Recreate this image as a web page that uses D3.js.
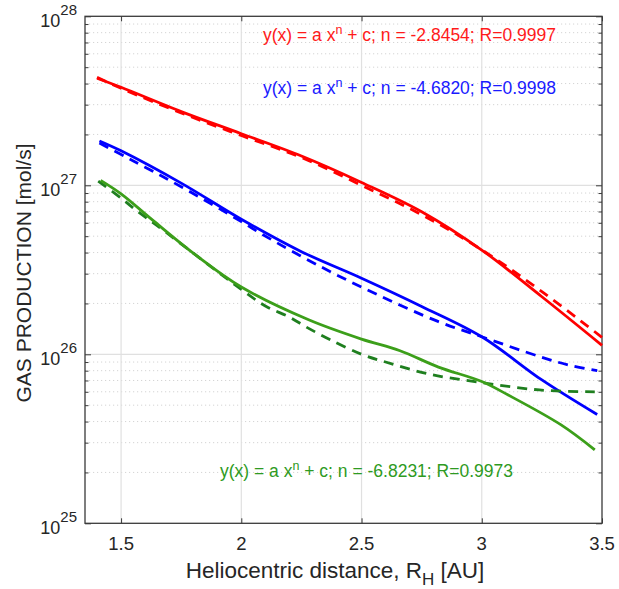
<!DOCTYPE html>
<html><head><meta charset="utf-8">
<script src="https://cdn.jsdelivr.net/npm/d3@7/dist/d3.min.js"></script>
<style>body{margin:0;background:#fff}svg{display:block}text{font-family:"Liberation Sans",Arial,sans-serif}</style>
</head><body><div id="chart"></div>
<script>
// ---- data ----
const xTicks = [1.5, 2, 2.5, 3, 3.5];
const yDecades = [25, 26, 27, 28];

const redSolidR = [1.40, 1.5, 1.75, 2.0, 2.25, 2.5, 2.75, 3.0, 3.25, 3.5];
const redSolidV = [4.30e27, 3.80e27, 2.73e27, 2.02e27, 1.49e27, 1.04e27, 6.98e26, 4.14e26, 2.19e26, 1.13e26];
const redFitR = [1.40, 1.5, 1.75, 2.0, 2.25, 2.5, 2.75, 3.0, 3.25, 3.5];
const redFitV = [4.35e27, 3.75e27, 2.68e27, 1.97e27, 1.46e27, 1.00e27, 6.7e26, 4.15e26, 2.35e26, 1.26e26];

const blueSolidR = [1.41, 1.5, 1.75, 2.0, 2.25, 2.5, 2.75, 3.0, 3.25, 3.48];
const blueSolidV = [1.83e27, 1.60e27, 1.03e27, 6.3e26, 4.05e26, 2.82e26, 1.92e26, 1.27e26, 7.05e25, 4.4e25];
const blueFitR = [1.41, 1.52, 1.6, 1.75, 2.0, 2.09, 2.33, 2.57, 2.82, 3.0, 3.24, 3.36, 3.48];
const blueFitV = [1.78e27, 1.47e27, 1.28e27, 9.8e26, 6.1e26, 5.1e26, 3.3e26, 2.24e26, 1.56e26, 1.27e26, 9.7e25, 8.65e25, 8.0e25];

const greenSolidR = [1.415, 1.5, 1.63, 1.81, 2.0, 2.28, 2.5, 2.66, 2.82, 3.0, 3.11, 3.33, 3.47];
const greenSolidV = [1.07e27, 8.9e26, 6.24e26, 3.87e26, 2.5e26, 1.6e26, 1.23e26, 1.05e26, 8.4e25, 6.9e25, 5.74e25, 3.82e25, 2.72e25];
const greenFitR = [1.405, 1.5, 1.57, 1.65, 2.0, 2.1, 2.2, 2.27, 2.37, 2.5, 2.6, 2.78, 3.0, 3.24, 3.47];
const greenFitV = [1.06e27, 8.4e26, 6.98e26, 5.77e26, 2.42e26, 1.93e26, 1.66e26, 1.45e26, 1.22e26, 1.0e26, 9.0e25, 7.64e25, 6.8e25, 6.15e25, 6.0e25];

const fitLabels = [
  {n: "-2.8454", r: "0.9997", color: "#ff1a1a"},
  {n: "-4.6820", r: "0.9998", color: "#1a1aff"},
  {n: "-6.8231", r: "0.9973", color: "#2e9a22"}
];

// ---- layout ----
const W = 619, H = 589;
const L = 85, R = 602, T = 16.3, B = 523.3;
const svg = d3.select("#chart").append("svg").attr("width", W).attr("height", H);
svg.append("rect").attr("width", W).attr("height", H).attr("fill", "#fff");

const x = d3.scaleLinear().domain([1.35, 3.5]).range([L, R]);
const y = d3.scaleLog().domain([1e25, 1e28]).range([B, T]);

const minorY = [];
for (let k = 25; k < 28; k++) for (let m = 2; m <= 9; m++) minorY.push(m * Math.pow(10, k));
const majorY = yDecades.map(d => Math.pow(10, d));

// grid
const g = svg.append("g");
g.selectAll(".mg").data(minorY).join("line")
  .attr("x1", L).attr("x2", R).attr("y1", d => y(d)).attr("y2", d => y(d))
  .attr("stroke", "#d4d4d4").attr("stroke-width", 1).attr("stroke-dasharray", "1.2,2.8");
g.selectAll(".Mg").data(majorY.slice(1, 3)).join("line")
  .attr("x1", L).attr("x2", R).attr("y1", d => y(d)).attr("y2", d => y(d))
  .attr("stroke", "#e0e0e0").attr("stroke-width", 1.2);
g.selectAll(".xg").data(xTicks.slice(0, 4)).join("line")
  .attr("x1", d => x(d)).attr("x2", d => x(d)).attr("y1", T).attr("y2", B)
  .attr("stroke", "#e0e0e0").attr("stroke-width", 1.2);

// axes (inward ticks) via d3.axis
const axCol = "#3a3a3a";
function styleAxis(sel) { sel.selectAll("path").remove(); sel.selectAll("line").attr("stroke", axCol).attr("stroke-width", 1); sel.selectAll("text").remove(); }
svg.append("g").attr("transform", `translate(${L},0)`).call(d3.axisLeft(y).tickValues(minorY).tickSize(-3.5)).call(styleAxis);
svg.append("g").attr("transform", `translate(${R},0)`).call(d3.axisRight(y).tickValues(minorY).tickSize(-3.5)).call(styleAxis);
svg.append("g").attr("transform", `translate(${L},0)`).call(d3.axisLeft(y).tickValues(majorY).tickSize(-6)).call(styleAxis);
svg.append("g").attr("transform", `translate(${R},0)`).call(d3.axisRight(y).tickValues(majorY).tickSize(-6)).call(styleAxis);
svg.append("g").attr("transform", `translate(0,${B})`).call(d3.axisBottom(x).tickValues(xTicks).tickSize(-5)).call(styleAxis);
svg.append("g").attr("transform", `translate(0,${T})`).call(d3.axisTop(x).tickValues(xTicks).tickSize(-5)).call(styleAxis);
svg.append("rect").attr("x", L).attr("y", T).attr("width", R - L).attr("height", B - T)
  .attr("fill", "none").attr("stroke", axCol).attr("stroke-width", 1.3);

// tick labels
svg.selectAll(".xl").data(xTicks).join("text")
  .attr("x", d => x(d)).attr("y", B + 27).attr("text-anchor", "middle")
  .attr("font-size", 18.5).attr("fill", "#262626").text(d => d);
const yl = svg.selectAll(".yl").data(yDecades).join("text")
  .attr("x", L - 8).attr("y", d => y(Math.pow(10, d)) + 10.5).attr("text-anchor", "end")
  .attr("fill", "#262626").attr("font-size", 18);
yl.append("tspan").text("10");
yl.append("tspan").attr("dy", -11.5).attr("font-size", 15).text(d => d);

// axis titles
const xt = svg.append("text").attr("x", 335).attr("y", 578).attr("text-anchor", "middle")
  .attr("font-size", 22.5).attr("fill", "#262626");
xt.append("tspan").text("Heliocentric distance, R");
xt.append("tspan").attr("dy", 7).attr("font-size", 17).text("H");
xt.append("tspan").attr("dy", -7).text(" [AU]");
svg.append("text").attr("transform", "translate(31,273) rotate(-90)").attr("text-anchor", "middle")
  .attr("font-size", 21).attr("fill", "#262626").text("GAS PRODUCTION [mol/s]");

// curves
const line = d3.line().x(d => x(d[0])).y(d => y(d[1])).curve(d3.curveCatmullRom.alpha(0.5));
const series = [
  {r: redFitR, v: redFitV, c: "#ff0000", dash: "10,7"},
  {r: redSolidR, v: redSolidV, c: "#ff0000", dash: null},
  {r: blueFitR, v: blueFitV, c: "#0000ff", dash: "10,7"},
  {r: blueSolidR, v: blueSolidV, c: "#0000ff", dash: null},
  {r: greenFitR, v: greenFitV, c: "#1f7f1f", dash: "10,7"},
  {r: greenSolidR, v: greenSolidV, c: "#3c9f1a", dash: null}
];
const cg = svg.append("g");
series.forEach(s => {
  cg.append("path").datum(s.r.map((r, i) => [r, s.v[i]]))
    .attr("d", line).attr("fill", "none").attr("stroke", s.c).attr("stroke-width", 2.8)
    .attr("stroke-dasharray", s.dash).attr("stroke-linejoin", "round");
});

// fit annotations
const annPos = [[263, 41], [263, 94], [220, 477]];
fitLabels.forEach((f, i) => {
  const t = svg.append("text").attr("x", annPos[i][0]).attr("y", annPos[i][1])
    .attr("font-size", 17.5).attr("fill", f.color);
  t.append("tspan").text("y(x) = a x");
  t.append("tspan").attr("dy", -7.5).attr("font-size", 12.5).text("n");
  t.append("tspan").attr("dy", 7.5).text(` + c; n = ${f.n}; R=${f.r}`);
});
</script></body></html>
